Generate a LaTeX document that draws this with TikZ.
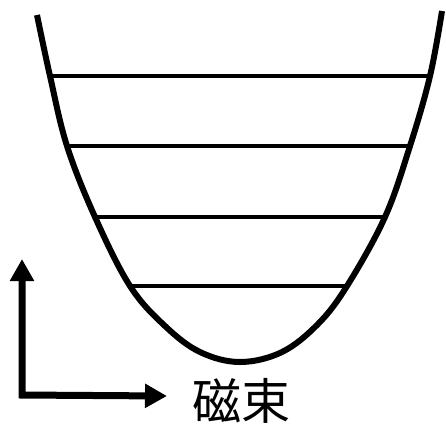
\documentclass[tikz,border=0pt]{standalone}
\usepackage{fontspec}
\newfontfamily\cjk{Noto Sans CJK JP}
\usetikzlibrary{arrows.meta}
\begin{document}
\begin{tikzpicture}[x=1pt,y=-1pt,
  curve/.style={line width=6pt},
  level/.style={line width=4.8pt},
  axis/.style={line width=7pt,line join=miter,
    {Triangle[length=22pt,width=23pt]}-{Triangle[length=22pt,width=23pt]}},
  lbl/.style={font=\cjk\fontsize{49}{49}\selectfont,inner sep=0pt}]
\useasboundingbox (0,0) rectangle (446,424);
% well
\draw[curve] plot[smooth,tension=0.6] coordinates {(37,15) (50,76) (67,146) (95,217) (130,286) (165,326) (200,352) (240,362) (282,352) (318,324) (347,286) (385,217) (410,146) (430,76) (442,11)};
% levels
\coordinate (l1a) at (50,76);  \coordinate (l1b) at (430,76);
\coordinate (l2a) at (67,146); \coordinate (l2b) at (410,146);
\coordinate (l3a) at (95,217); \coordinate (l3b) at (385,217);
\coordinate (l4a) at (130,286);\coordinate (l4b) at (347,286);
\draw[level] (l1a) -- (l1b);
\draw[level] (l2a) -- (l2b);
\draw[level] (l3a) -- (l3b);
\draw[level] (l4a) -- (l4b);
% axes
\coordinate (ytip) at (22,259);
\coordinate (orig) at (22,395);
\coordinate (xtip) at (167,396);
\draw[axis] (ytip) -- (orig) -- (xtip);
\node[lbl] (flux) at (241,401) {磁束};
\end{tikzpicture}
\end{document}
